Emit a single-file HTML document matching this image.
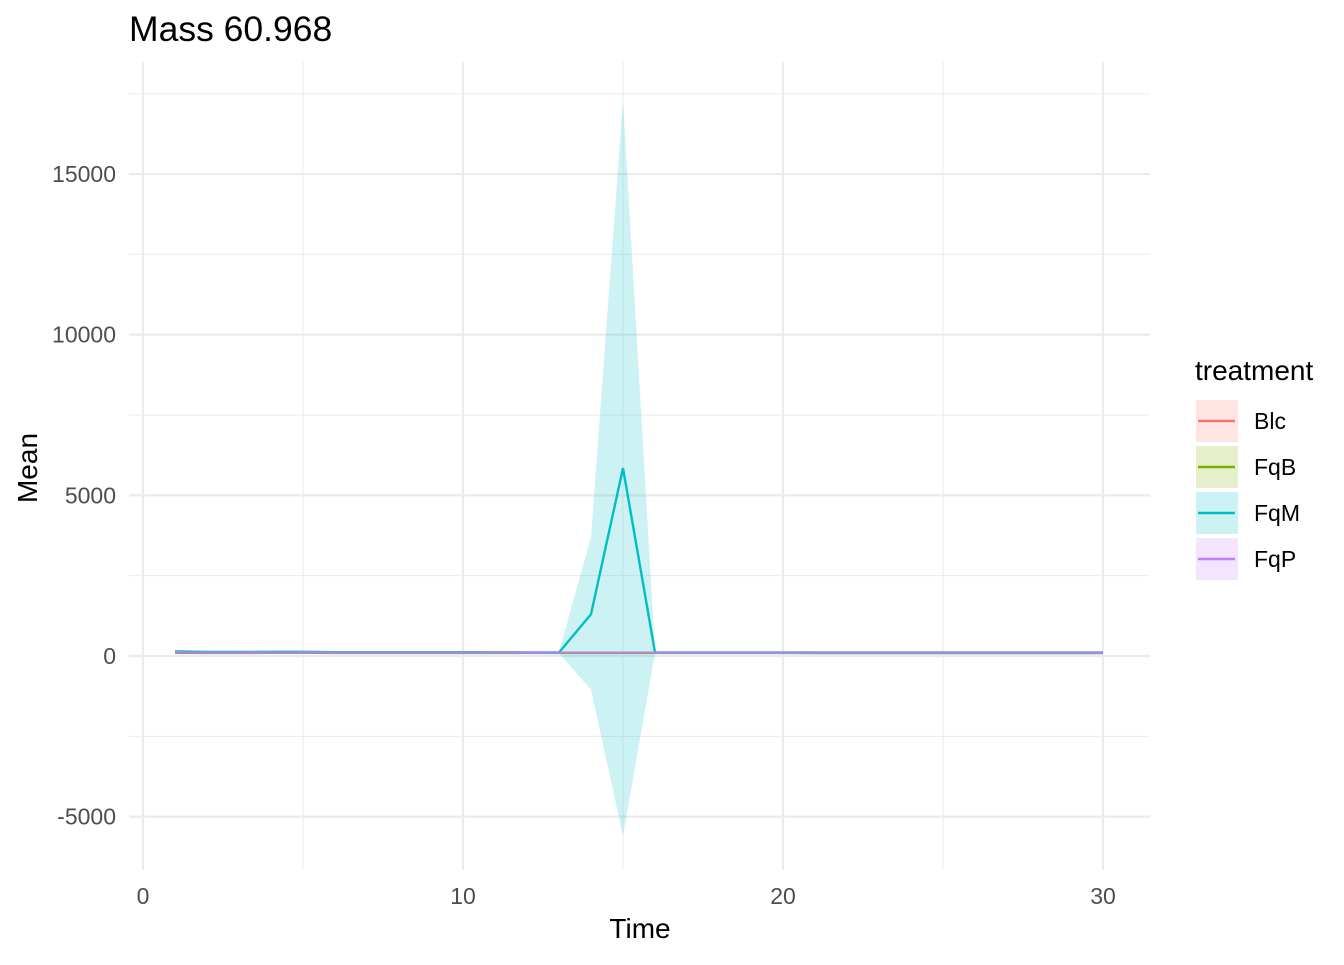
<!DOCTYPE html>
<html><head><meta charset="utf-8"><style>
body{margin:0;background:#fff;font-family:"Liberation Sans",sans-serif}
</style></head><body>
<svg id="chart" width="1344" height="960" xmlns="http://www.w3.org/2000/svg" font-family="Liberation Sans, sans-serif">
<text x="129" y="41" font-size="35.5" fill="#000">Mass 60.968</text>
<g id="grid"></g>
<g id="ribbons"></g>
<g id="lines"></g>
<g id="axes"></g>
<text x="640" y="938" font-size="28" text-anchor="middle">Time</text>
<text transform="translate(37,468) rotate(-90)" font-size="28" text-anchor="middle">Mean</text>
<g id="legend">
<text x="1195" y="380" font-size="28">treatment</text>
</g>
</svg>
<script>
const times=[];for(let t=1;t<=30;t++)times.push(t);
const seriesNames=["Blc","FqB","FqM","FqP"];
const colors=["#F8766D","#7CAE00","#00BFC4","#C77CFF"];
const blcMean=[110,105,105,108,108,105,103,104,105,105,104,103,102,103,102,102,103,102,102,102,102,101,101,101,101,101,101,101,101,101];
const fqbMean=[100,96,96,98,98,96,95,95,96,96,95,95,94,94,94,94,94,94,94,94,93,93,93,93,93,93,93,93,93,93];
const fqmMean=[140,125,125,130,130,120,118,118,120,120,115,112,110,1300,5850,115,112,112,110,110,110,110,110,110,110,110,110,110,110,110];
const fqmLower=[90,90,90,90,90,90,90,90,90,90,90,90,90,-1050,-5600,90,90,90,90,90,90,90,90,90,90,90,90,90,90,90];
const fqmUpper=[190,160,160,170,170,150,146,146,150,150,140,134,130,3700,17300,140,134,134,130,130,130,130,130,130,130,130,130,130,130,130];
const fqpMean=[115,108,108,110,110,108,106,106,107,107,106,105,104,104,104,104,104,104,104,104,104,104,104,104,104,104,104,104,104,104];
const xTicks=[0,10,20,30];const xMinor=[5,15,25];
const yTicks=[-5000,0,5000,10000,15000];const yMinor=[-2500,2500,7500,12500,17500];
const X=v=>143+v*32, Y=v=>656-v*0.03213;
const NS="http://www.w3.org/2000/svg";
function mk(tag,attrs,parent){const e=document.createElementNS(NS,tag);for(const k in attrs)e.setAttribute(k,attrs[k]);parent.appendChild(e);return e;}
const grid=document.getElementById('grid'),axes=document.getElementById('axes');
const L=129,R=1150,T=62,B=870;
yMinor.forEach(v=>{const l=mk('line',{x1:L,x2:R,y1:Y(v),y2:Y(v),stroke:'#EBEBEB','stroke-width':1},grid);});
xMinor.forEach(v=>{const l=mk('line',{x1:X(v),x2:X(v),y1:T,y2:B,stroke:'#EBEBEB','stroke-width':1},grid);});
yTicks.forEach(v=>{const l=mk('line',{x1:L,x2:R,y1:Y(v),y2:Y(v),stroke:'#EBEBEB','stroke-width':2.2},grid);
const t=mk('text',{x:116,y:Y(v)+8,'font-size':23,fill:'#4D4D4D','text-anchor':'end'},axes);t.textContent=v;});
xTicks.forEach(v=>{const l=mk('line',{x1:X(v),x2:X(v),y1:T,y2:B,stroke:'#EBEBEB','stroke-width':2.2},grid);
const t=mk('text',{x:X(v),y:904,'font-size':23,fill:'#4D4D4D','text-anchor':'middle'},axes);t.textContent=v;});
const means=[blcMean,fqbMean,fqmMean,fqpMean];
const rib=document.getElementById('ribbons'),lines=document.getElementById('lines');
means.forEach((m,i)=>{
 let lo,hi;
 if(i===2){lo=fqmLower;hi=fqmUpper;}else{lo=m.map(v=>v-15);hi=m.map(v=>v+15);}
 let d=times.map((t,k)=>(k?'L':'M')+X(t)+','+Y(hi[k])).join('')+times.slice().reverse().map((t,k)=>'L'+X(t)+','+Y(lo[times.length-1-k])).join('')+'Z';
 const p=mk('path',{d:d,fill:colors[i],'fill-opacity':0.2},rib);
});
[0,1,2,3].forEach(i=>{
 const pts=times.map((t,k)=>X(t)+','+Y(means[i][k])).join(' ');
 const pl=mk('polyline',{points:pts,fill:'none',stroke:colors[i],'stroke-width':2.4,'stroke-opacity':i===3?0.8:1},lines);
});
const leg=document.getElementById('legend');
seriesNames.forEach((n,i)=>{
 const y0=400+i*46;
 const g=mk('g',{},leg);
 mk('rect',{x:1196,y:y0,width:42,height:42,fill:colors[i],'fill-opacity':0.2},g);
 mk('line',{x1:1198,x2:1235,y1:y0+21,y2:y0+21,stroke:colors[i],'stroke-width':2.4},g);
 const t=mk('text',{x:1254,y:y0+29,'font-size':23},g);t.textContent=n;
});
</script>
</body></html>
